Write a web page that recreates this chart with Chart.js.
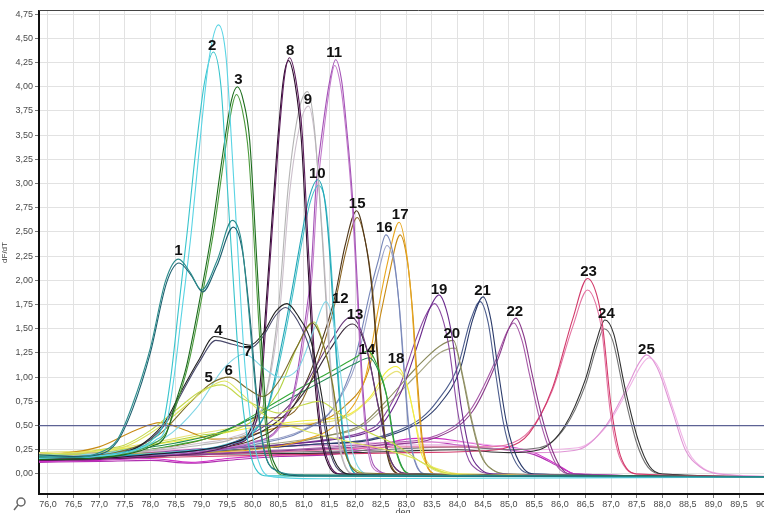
<!DOCTYPE html>
<html>
<head>
<meta charset="utf-8">
<script src="https://cdn.jsdelivr.net/npm/chart.js@4"></script>
<style>
  html, body { margin: 0; padding: 0; background: #fff; overflow: hidden; }
  canvas { display: block; }
</style>
</head>
<body>
<canvas id="chart" width="800" height="525"></canvas>
<script>
// melt peaks, [temperature, dF/dT] (two replicates per sample)
const peak1a = [[75.8,0.18],[76.5,0.17],[77.0,0.22],[77.35,0.35],[77.64,0.7],[78.0,1.3],[78.3,2.0],[78.55,2.22],[78.78,2.08],[79.0,1.9],[79.3,2.2],[79.6,2.62],[79.78,2.4],[79.92,1.7],[80.05,0.9],[80.2,0.3],[80.4,0.05],[81.0,-0.01],[90.65,-0.03]]
const peak1b = [[75.8,0.2],[76.5,0.18],[77.0,0.2],[77.35,0.33],[77.66,0.68],[78.0,1.25],[78.32,1.98],[78.56,2.18],[78.8,2.05],[79.02,1.88],[79.3,2.15],[79.62,2.55],[79.8,2.3],[79.95,1.6],[80.08,0.8],[80.22,0.25],[80.45,0.04],[81.0,-0.02],[90.65,-0.03]]
const peak2a = [[75.8,0.16],[76.6,0.18],[77.3,0.2],[77.8,0.26],[78.1,0.35],[78.3,0.48],[78.45,0.95],[78.62,1.7],[78.8,2.5],[79.0,3.6],[79.15,4.3],[79.33,4.64],[79.48,4.3],[79.6,3.3],[79.72,2.2],[79.85,1.1],[80.0,0.4],[80.15,0.08],[80.4,-0.03],[81.5,-0.05],[90.65,-0.03]]
const peak2b = [[75.8,0.18],[76.6,0.17],[77.3,0.21],[77.8,0.27],[78.05,0.36],[78.25,0.52],[78.4,1.0],[78.56,1.75],[78.72,2.5],[78.9,3.4],[79.06,4.05],[79.23,4.36],[79.38,4.0],[79.5,3.0],[79.62,2.0],[79.75,1.0],[79.9,0.35],[80.05,0.06],[80.3,-0.02],[90.65,-0.03]]
const peak3a = [[75.8,0.15],[76.8,0.16],[77.5,0.2],[78.0,0.28],[78.3,0.4],[78.5,0.75],[78.7,1.1],[79.0,1.9],[79.2,2.5],[79.4,3.25],[79.58,3.85],[79.7,4.0],[79.82,3.85],[79.94,3.45],[80.08,2.2],[80.2,1.1],[80.3,0.4],[80.45,0.08],[80.7,-0.01],[90.65,-0.03]]
const peak3b = [[75.8,0.17],[76.8,0.18],[77.5,0.21],[78.0,0.3],[78.3,0.42],[78.5,0.7],[78.75,1.15],[79.05,1.95],[79.25,2.55],[79.45,3.3],[79.6,3.8],[79.68,3.92],[79.8,3.75],[79.92,3.3],[80.06,2.1],[80.18,1.0],[80.28,0.35],[80.42,0.06],[80.7,-0.02],[90.65,-0.03]]
const peak4a = [[75.8,0.15],[76.8,0.16],[77.5,0.22],[77.9,0.33],[78.3,0.55],[78.6,0.85],[78.95,1.18],[79.25,1.42],[79.6,1.38],[79.95,1.33],[80.2,1.45],[80.45,1.68],[80.67,1.76],[80.9,1.62],[81.15,1.35],[81.35,0.8],[81.5,0.3],[81.7,0.05],[82.0,-0.01],[90.65,-0.03]]
const peak4b = [[75.8,0.17],[76.8,0.18],[77.5,0.23],[77.9,0.32],[78.3,0.52],[78.6,0.82],[78.95,1.15],[79.28,1.38],[79.6,1.34],[79.95,1.3],[80.2,1.42],[80.45,1.64],[80.64,1.72],[80.88,1.58],[81.12,1.28],[81.32,0.75],[81.48,0.28],[81.68,0.04],[82.0,-0.01],[90.65,-0.03]]
const peak5a = [[75.8,0.2],[76.5,0.22],[77.0,0.24],[77.5,0.28],[78.0,0.42],[78.5,0.62],[79.0,0.84],[79.45,0.96],[79.8,0.82],[80.2,0.62],[80.6,0.52],[81.0,0.45],[81.5,0.38],[82.0,0.32],[82.6,0.25],[83.2,0.15],[83.6,0.03],[84.0,-0.01],[90.65,-0.03]]
const peak5b = [[75.8,0.22],[76.5,0.2],[77.0,0.25],[77.5,0.3],[78.0,0.45],[78.5,0.66],[79.0,0.86],[79.4,0.92],[79.8,0.78],[80.2,0.68],[80.52,0.63],[80.9,0.7],[81.3,0.75],[81.7,0.62],[82.2,0.45],[82.8,0.3],[83.3,0.12],[83.7,0.02],[84.1,-0.01],[90.65,-0.03]]
const peak6a = [[75.8,0.16],[76.6,0.18],[77.3,0.22],[77.8,0.3],[78.2,0.42],[78.8,0.75],[79.2,0.94],[79.55,1.0],[79.9,0.88],[80.2,0.8],[80.5,0.95],[80.85,1.3],[81.16,1.56],[81.4,1.3],[81.55,0.95],[81.7,0.45],[81.85,0.15],[82.1,0.01],[90.65,-0.03]]
const peak7a = [[75.8,0.2],[76.8,0.2],[77.5,0.25],[78.3,0.38],[78.9,0.68],[79.45,1.1],[79.84,1.24],[80.2,1.1],[80.52,1.0],[80.9,1.1],[81.2,1.5],[81.43,1.78],[81.6,1.5],[81.75,0.9],[81.9,0.35],[82.05,0.08],[82.3,0.0],[90.65,-0.03]]
const peak8a = [[75.8,0.14],[77.0,0.15],[78.0,0.18],[79.0,0.22],[79.6,0.3],[80.0,0.45],[80.15,0.8],[80.3,1.9],[80.5,3.4],[80.62,4.1],[80.72,4.3],[80.85,4.05],[80.97,3.5],[81.1,2.2],[81.22,1.1],[81.35,0.4],[81.5,0.1],[81.7,0.0],[90.65,-0.03]]
const peak8b = [[75.8,0.15],[77.0,0.16],[78.0,0.2],[79.0,0.25],[79.6,0.32],[79.95,0.45],[80.12,0.8],[80.28,1.9],[80.48,3.4],[80.6,4.08],[80.7,4.27],[80.83,4.02],[80.95,3.45],[81.08,2.15],[81.2,1.05],[81.33,0.38],[81.48,0.09],[81.7,0.0],[90.65,-0.03]]
const peak9a = [[75.8,0.18],[77.0,0.2],[78.0,0.24],[79.0,0.3],[79.6,0.36],[80.0,0.48],[80.25,0.8],[80.5,1.7],[80.7,3.0],[80.9,3.75],[81.07,3.95],[81.2,3.6],[81.35,2.5],[81.5,1.2],[81.65,0.4],[81.8,0.08],[82.0,0.0],[90.65,-0.03]]
const peak9b = [[75.8,0.2],[77.0,0.21],[78.0,0.25],[79.0,0.32],[79.6,0.38],[80.0,0.5],[80.28,0.85],[80.53,1.7],[80.72,2.9],[80.92,3.6],[81.09,3.8],[81.22,3.45],[81.37,2.4],[81.52,1.15],[81.67,0.38],[81.82,0.07],[82.0,0.0],[90.65,-0.03]]
const peak10a = [[75.8,0.16],[77.0,0.18],[78.5,0.22],[79.5,0.3],[80.0,0.42],[80.3,0.7],[80.55,1.3],[80.75,1.85],[80.95,2.45],[81.1,2.85],[81.27,3.04],[81.4,2.85],[81.5,2.3],[81.62,1.3],[81.75,0.45],[81.9,0.08],[82.1,-0.01],[90.65,-0.03]]
const peak10b = [[75.8,0.17],[77.0,0.19],[78.5,0.23],[79.5,0.31],[80.0,0.44],[80.32,0.72],[80.58,1.3],[80.78,1.85],[80.97,2.42],[81.12,2.8],[81.28,2.98],[81.42,2.8],[81.52,2.25],[81.64,1.25],[81.77,0.42],[81.92,0.07],[82.1,-0.01],[90.65,-0.03]]
const peak11a = [[75.8,0.15],[77.0,0.16],[78.5,0.2],[79.5,0.26],[80.0,0.32],[80.5,0.48],[80.8,0.85],[81.0,1.5],[81.14,2.1],[81.24,3.0],[81.36,3.55],[81.5,4.05],[81.62,4.28],[81.74,4.05],[81.83,3.6],[81.95,2.85],[82.05,1.9],[82.15,0.9],[82.28,0.25],[82.45,0.04],[82.7,0.0],[90.65,-0.03]]
const peak11b = [[75.8,0.16],[77.0,0.17],[78.5,0.21],[79.5,0.27],[80.0,0.33],[80.5,0.46],[80.82,0.85],[81.02,1.45],[81.16,2.05],[81.26,2.9],[81.38,3.5],[81.5,3.98],[81.6,4.22],[81.72,4.0],[81.82,3.55],[81.94,2.8],[82.04,1.85],[82.14,0.85],[82.26,0.22],[82.42,0.03],[82.7,0.0],[90.65,-0.03]]
const peak12a = [[75.8,0.2],[77.0,0.22],[78.0,0.3],[79.0,0.4],[79.6,0.45],[80.0,0.55],[80.5,0.85],[80.9,1.35],[81.2,1.57],[81.4,1.3],[81.55,0.97],[81.7,0.45],[81.85,0.15],[82.1,0.02],[82.4,-0.01],[90.65,-0.03]]
const peak13a = [[75.8,0.14],[77.0,0.16],[78.5,0.2],[79.5,0.3],[80.5,0.6],[81.0,0.9],[81.5,1.35],[81.92,1.62],[82.2,1.35],[82.45,0.7],[82.65,0.2],[82.85,0.03],[83.1,0.0],[90.65,-0.03]]
const peak13b = [[75.8,0.15],[77.0,0.17],[78.5,0.22],[79.5,0.3],[80.5,0.55],[81.0,0.84],[81.5,1.28],[81.95,1.55],[82.22,1.3],[82.47,0.66],[82.67,0.18],[82.87,0.02],[83.1,0.0],[90.65,-0.03]]
const peak14a = [[75.8,0.18],[77.0,0.2],[77.5,0.22],[78.5,0.3],[79.3,0.4],[80.0,0.6],[80.8,0.85],[81.5,1.05],[82.0,1.2],[82.25,1.27],[82.45,1.1],[82.6,0.85],[82.75,0.35],[82.9,0.08],[83.1,0.0],[90.65,-0.03]]
const peak14b = [[75.8,0.19],[77.0,0.21],[77.5,0.24],[78.5,0.32],[79.3,0.42],[80.0,0.58],[80.8,0.8],[81.5,1.0],[82.0,1.14],[82.28,1.2],[82.47,1.05],[82.62,0.8],[82.77,0.32],[82.92,0.07],[83.1,0.0],[90.65,-0.03]]
const peak15a = [[75.8,0.15],[77.0,0.16],[78.5,0.2],[79.5,0.28],[80.0,0.35],[80.6,0.55],[81.0,0.9],[81.3,1.3],[81.6,1.82],[81.8,2.35],[82.03,2.72],[82.2,2.4],[82.32,1.95],[82.45,1.1],[82.58,0.35],[82.72,0.05],[82.9,0.0],[90.65,-0.03]]
const peak15b = [[75.8,0.17],[77.0,0.2],[78.0,0.25],[79.0,0.35],[79.6,0.48],[80.1,0.58],[80.5,0.58],[80.9,0.7],[81.3,1.2],[81.6,1.75],[81.82,2.3],[82.04,2.65],[82.22,2.35],[82.34,1.9],[82.47,1.05],[82.6,0.32],[82.74,0.05],[82.9,0.0],[90.65,-0.03]]
const peak16a = [[75.8,0.16],[77.0,0.18],[78.5,0.2],[80.0,0.3],[81.0,0.45],[81.6,0.7],[82.0,1.2],[82.3,1.9],[82.45,2.2],[82.6,2.47],[82.75,2.25],[82.85,1.8],[82.95,1.1],[83.05,0.45],[83.2,0.08],[83.4,0.0],[90.65,-0.03]]
const peak16b = [[75.8,0.18],[77.0,0.19],[78.5,0.22],[80.0,0.32],[81.0,0.46],[81.6,0.7],[82.02,1.15],[82.32,1.82],[82.47,2.12],[82.62,2.36],[82.77,2.15],[82.87,1.7],[82.97,1.02],[83.07,0.4],[83.22,0.07],[83.4,0.0],[90.65,-0.03]]
const peak17a = [[75.8,0.18],[77.0,0.2],[78.5,0.22],[80.0,0.25],[81.0,0.35],[81.7,0.55],[82.2,1.0],[82.45,1.7],[82.62,2.15],[82.86,2.6],[83.0,2.3],[83.1,1.8],[83.2,1.0],[83.3,0.35],[83.42,0.06],[83.6,0.0],[90.65,-0.03]]
const peak17b = [[75.8,0.18],[77.0,0.28],[77.7,0.45],[78.2,0.53],[78.7,0.45],[79.2,0.36],[79.8,0.38],[80.5,0.48],[81.2,0.52],[81.8,0.7],[82.25,1.05],[82.5,1.65],[82.66,2.05],[82.88,2.47],[83.02,2.2],[83.12,1.7],[83.22,0.95],[83.32,0.32],[83.44,0.05],[83.6,0.0],[90.65,-0.03]]
const peak18a = [[75.8,0.2],[77.0,0.24],[78.0,0.3],[79.0,0.38],[80.0,0.48],[81.0,0.55],[81.8,0.6],[82.3,0.8],[82.6,1.05],[82.8,1.11],[83.0,0.95],[83.15,0.6],[83.3,0.2],[83.6,0.05],[84.0,0.0],[90.65,-0.03]]
const peak18b = [[75.8,0.22],[77.0,0.25],[78.0,0.32],[79.0,0.42],[80.0,0.5],[81.0,0.52],[81.8,0.58],[82.3,0.78],[82.62,1.0],[82.82,1.06],[83.02,0.9],[83.17,0.55],[83.35,0.18],[83.7,0.04],[84.1,0.0],[90.65,-0.03]]
const peak19a = [[75.8,0.15],[77.0,0.16],[79.0,0.25],[80.5,0.3],[81.5,0.35],[82.2,0.42],[82.5,0.5],[82.9,0.85],[83.25,1.38],[83.45,1.7],[83.64,1.85],[83.78,1.7],[83.9,1.4],[84.07,0.7],[84.25,0.22],[84.45,0.05],[84.7,0.0],[90.65,-0.03]]
const peak19b = [[75.8,0.16],[77.0,0.18],[79.0,0.26],[80.5,0.3],[81.5,0.36],[82.2,0.44],[82.45,0.52],[82.85,0.88],[83.18,1.38],[83.38,1.64],[83.55,1.76],[83.7,1.62],[83.83,1.32],[84.0,0.66],[84.18,0.2],[84.4,0.04],[84.7,0.0],[90.65,-0.03]]
const peak20a = [[75.8,0.17],[77.0,0.2],[79.0,0.22],[80.5,0.3],[81.5,0.4],[82.1,0.5],[82.6,0.75],[83.2,1.1],[83.65,1.32],[83.92,1.38],[84.1,1.0],[84.25,0.6],[84.45,0.2],[84.7,0.04],[85.0,0.0],[90.65,-0.03]]
const peak20b = [[75.8,0.18],[77.0,0.21],[79.0,0.24],[80.5,0.32],[81.5,0.4],[82.1,0.48],[82.6,0.7],[83.2,1.02],[83.65,1.25],[83.95,1.3],[84.13,0.95],[84.28,0.56],[84.48,0.18],[84.72,0.03],[85.0,0.0],[90.65,-0.03]]
const peak21a = [[75.8,0.14],[77.0,0.16],[79.0,0.22],[81.0,0.3],[82.3,0.35],[82.8,0.42],[83.3,0.55],[83.65,0.72],[84.05,1.08],[84.3,1.6],[84.5,1.83],[84.65,1.6],[84.8,1.05],[84.95,0.55],[85.1,0.25],[85.3,0.05],[85.5,0.0],[90.65,-0.03]]
const peak21b = [[75.8,0.15],[77.0,0.17],[79.0,0.23],[81.0,0.3],[82.3,0.36],[82.8,0.44],[83.3,0.58],[83.6,0.75],[84.0,1.1],[84.25,1.58],[84.44,1.78],[84.6,1.56],[84.75,1.02],[84.9,0.52],[85.05,0.22],[85.25,0.04],[85.5,0.0],[90.65,-0.03]]
const peak22a = [[75.8,0.15],[77.0,0.17],[79.0,0.2],[81.0,0.25],[82.5,0.3],[83.6,0.38],[84.3,0.65],[84.8,1.2],[85.0,1.5],[85.14,1.61],[85.3,1.42],[85.45,1.05],[85.62,0.65],[85.8,0.32],[86.0,0.08],[86.2,0.0],[90.65,-0.03]]
const peak22b = [[75.8,0.16],[77.0,0.18],[79.0,0.21],[81.0,0.26],[82.5,0.32],[83.6,0.4],[84.25,0.66],[84.75,1.18],[84.96,1.46],[85.1,1.56],[85.26,1.38],[85.41,1.02],[85.58,0.62],[85.76,0.3],[85.96,0.07],[86.2,0.0],[90.65,-0.03]]
const peak23a = [[75.8,0.15],[77.0,0.16],[79.0,0.18],[81.0,0.2],[83.0,0.22],[84.5,0.24],[84.95,0.27],[85.4,0.42],[85.85,0.88],[86.25,1.6],[86.54,2.02],[86.72,1.85],[86.83,1.55],[87.0,0.7],[87.15,0.25],[87.3,0.06],[87.5,0.0],[90.65,-0.03]]
const peak23b = [[75.8,0.16],[77.0,0.18],[79.0,0.2],[81.0,0.24],[83.0,0.28],[84.5,0.28],[84.95,0.3],[85.4,0.44],[85.85,0.86],[86.25,1.52],[86.54,1.9],[86.7,1.76],[86.82,1.48],[86.98,0.66],[87.13,0.23],[87.3,0.05],[87.5,0.0],[90.65,-0.03]]
const peak24a = [[75.8,0.14],[77.0,0.16],[79.0,0.2],[82.0,0.22],[84.0,0.25],[85.0,0.22],[85.6,0.25],[86.1,0.5],[86.5,0.98],[86.7,1.35],[86.88,1.59],[87.05,1.45],[87.28,0.87],[87.53,0.35],[87.75,0.08],[88.0,0.0],[90.65,-0.03]]
const peak24b = [[75.8,0.15],[77.0,0.17],[79.0,0.21],[82.0,0.24],[84.0,0.28],[85.0,0.25],[85.6,0.27],[86.1,0.48],[86.5,0.92],[86.7,1.28],[86.86,1.5],[87.03,1.38],[87.26,0.82],[87.5,0.32],[87.72,0.07],[88.0,0.0],[90.65,-0.03]]
const peak25a = [[75.8,0.2],[77.0,0.22],[79.0,0.25],[82.0,0.3],[84.0,0.3],[85.5,0.22],[86.35,0.25],[86.9,0.5],[87.3,0.88],[87.55,1.15],[87.69,1.23],[87.9,1.1],[88.18,0.68],[88.45,0.25],[88.75,0.07],[89.1,0.0],[90.65,-0.03]]
const peak25b = [[75.8,0.21],[77.0,0.23],[79.0,0.26],[82.0,0.32],[84.0,0.33],[85.5,0.25],[86.35,0.27],[86.92,0.5],[87.34,0.88],[87.6,1.13],[87.74,1.2],[87.95,1.08],[88.22,0.66],[88.5,0.24],[88.8,0.06],[89.2,0.0],[90.65,-0.03]]
// low magenta traces without a clear peak
const lowA = [[75.8,0.13],[77.0,0.14],[78.0,0.16],[78.8,0.12],[79.5,0.16],[80.5,0.2],[81.5,0.22],[82.5,0.3],[83.0,0.36],[83.5,0.37],[84.0,0.34],[84.5,0.3],[85.0,0.28],[85.5,0.22],[86.0,0.08],[86.3,0.0],[90.65,-0.03]]
const lowB = [[75.8,0.12],[77.0,0.13],[78.0,0.14],[78.8,0.11],[79.5,0.14],[80.5,0.18],[81.5,0.2],[82.5,0.27],[83.0,0.32],[83.5,0.33],[84.0,0.3],[84.5,0.27],[85.0,0.25],[85.5,0.2],[86.0,0.07],[86.3,0.0],[90.65,-0.03]]

const curveData = [peak1a, peak1b, peak2a, peak2b, peak3a, peak3b, peak4a, peak4b, peak5a, peak5b, peak6a, peak7a,
  peak8a, peak8b, peak9a, peak9b, peak10a, peak10b, peak11a, peak11b, peak12a, peak13a, peak13b, peak14a, peak14b,
  peak15a, peak15b, peak16a, peak16b, peak17a, peak17b, peak18a, peak18b, peak19a, peak19b, peak20a, peak20b,
  peak21a, peak21b, peak22a, peak22b, peak23a, peak23b, peak24a, peak24b, peak25a, peak25b, lowA, lowB]
const curveColors = ['#2b8c8c','#1d5f6e','#5ad4e4','#38c4cc','#1b6b1b','#4c9a3c','#222222','#4a4a6c','#dce45e','#c4d84c','#7c6c2c','#82d6e6',
  '#5c1c5c','#2c0c2c','#b4b4b4','#ccc0cc','#22a6b6','#46c2ca','#a452b6','#c27ccb','#b2d244','#6c3c7c','#3a2a3a','#34a834','#208a50',
  '#4e361a','#8a6424','#7686b8','#9aa2c8','#e8a61e','#c88a14','#f2ee3e','#e8e27a','#6a2a8c','#8c4ca2','#8a8a5c','#a4a482',
  '#2a3a6a','#4e5e8e','#8a3a8a','#a85aa8','#d23a6a','#e474a2','#303030','#727272','#e096d6','#f0b4e6','#d030c8','#b030b0']

// threshold
const thresholdY = 0.5

// peak numbers and where they are written (data units)
const peakNames = ['1','2','3','4','5','6','7','8','9','10','11','12','13','14','15','16','17','18','19','20','21','22','23','24','25']
const peakNameX = [78.55,79.21,79.72,79.33,79.14,79.53,79.9,80.73,81.08,81.26,81.59,81.71,82.0,82.23,82.04,82.57,82.88,82.8,83.64,83.89,84.49,85.12,86.56,86.91,87.69]
const peakNameY = [2.3,4.42,4.07,1.48,0.99,1.07,1.26,4.37,3.87,3.1,4.35,1.81,1.64,1.28,2.79,2.54,2.68,1.19,1.9,1.45,1.89,1.67,2.09,1.65,1.28]

const xMin = 75.825, xMax = 90.65
const yMin = -0.207, yMax = 4.783

function toPoints(pairs){
  return pairs.map(p => ({ x: p[0], y: p[1] }))
}

let datasets = []
// threshold first so it sits on top
datasets.push({
  data: toPoints([[xMin, thresholdY], [xMax, thresholdY]]),
  borderColor: '#5c6294',
  borderWidth: 1.3,
  tension: 0
})
for (let i = 0; i < curveData.length; i++) {
  datasets.push({
    data: toPoints(curveData[i]),
    borderColor: curveColors[i],
    borderWidth: 1.1,
    cubicInterpolationMode: 'monotone'
  })
}

const decorPlugin = {
  id: 'decor',
  afterDatasetsDraw(chart){
    const ctx = chart.ctx
    const xs = chart.scales.x, ys = chart.scales.y
    ctx.save()
    ctx.fillStyle = '#111'
    ctx.font = 'bold 15px "Liberation Sans", Arial, sans-serif'
    ctx.textAlign = 'center'
    ctx.textBaseline = 'middle'
    for (let i = 0; i < peakNames.length; i++) {
      ctx.fillText(peakNames[i], xs.getPixelForValue(peakNameX[i]), ys.getPixelForValue(peakNameY[i]))
    }
    ctx.restore()
  },
  afterDraw(chart){
    const ctx = chart.ctx
    const a = chart.chartArea
    ctx.save()
    // top frame line
    ctx.strokeStyle = '#444'
    ctx.lineWidth = 1
    ctx.beginPath()
    ctx.moveTo(a.left, a.top - 0.5)
    ctx.lineTo(a.right, a.top - 0.5)
    ctx.stroke()
    // x axis name
    ctx.fillStyle = '#444'
    ctx.font = '9px "Liberation Sans", Arial, sans-serif'
    ctx.textAlign = 'center'
    ctx.textBaseline = 'top'
    ctx.fillText('deg', 403, 508)
    // small zoom icon
    ctx.strokeStyle = '#666'
    ctx.lineWidth = 1.5
    ctx.beginPath()
    ctx.arc(21, 502, 4, 0, Math.PI * 2)
    ctx.stroke()
    ctx.beginPath()
    ctx.moveTo(18, 505)
    ctx.lineTo(14, 510)
    ctx.stroke()
    ctx.restore()
  }
}

const tickFont = { size: 9, family: '"Liberation Sans", Arial, sans-serif' }

new Chart(document.getElementById('chart'), {
  type: 'line',
  data: { datasets: datasets },
  options: {
    responsive: false,
    animation: false,
    layout: { padding: { top: 11, left: 0, right: 0, bottom: 0 } },
    elements: { point: { radius: 0 } },
    plugins: { legend: { display: false }, tooltip: { enabled: false } },
    scales: {
      x: {
        type: 'linear',
        min: xMin,
        max: xMax,
        afterFit(scale){ scale.height = 31 },
        grid: { color: '#e2e2e2', tickColor: '#777', tickLength: 4 },
        border: { color: '#111', width: 2 },
        ticks: {
          stepSize: 0.5,
          includeBounds: false,
          autoSkip: false,
          maxRotation: 0,
          padding: 1,
          color: '#4a4a4a',
          font: tickFont,
          callback: v => v.toFixed(1).replace('.', ',')
        }
      },
      y: {
        min: yMin,
        max: yMax,
        afterFit(scale){ scale.width = 39 },
        grid: { color: '#e2e2e2', tickColor: '#777', tickLength: 4 },
        border: { color: '#111', width: 2 },
        title: { display: true, text: 'dF/dT', color: '#444', font: { size: 8, family: '"Liberation Sans", Arial, sans-serif' }, padding: 0 },
        ticks: {
          stepSize: 0.25,
          includeBounds: false,
          autoSkip: false,
          padding: 2,
          color: '#4a4a4a',
          font: tickFont,
          callback: v => v.toFixed(2).replace('.', ',')
        }
      }
    }
  },
  plugins: [decorPlugin]
})
</script>
</body>
</html>
